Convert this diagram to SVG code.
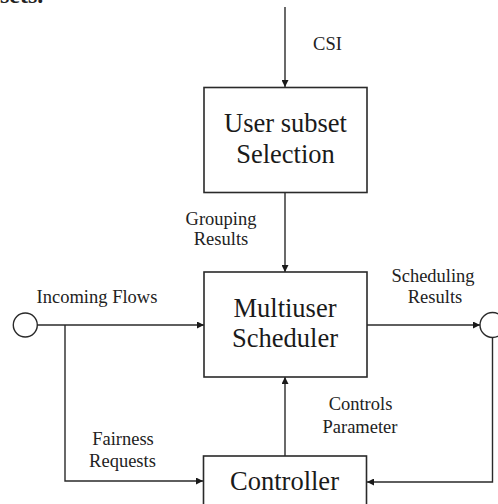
<svg xmlns="http://www.w3.org/2000/svg" width="498" height="504" viewBox="0 0 498 504">
<style>
.box{fill:#fff;stroke:#2a2a2a;stroke-width:1.6}
.ln{fill:none;stroke:#2a2a2a;stroke-width:1.4}
.c{fill:#fff;stroke:#2a2a2a;stroke-width:1.4}
.t{font-family:"Liberation Serif",serif;fill:#222;font-size:18.5px;text-anchor:middle}
.b{font-family:"Liberation Serif",serif;fill:#1a1a1a;font-size:26.5px;text-anchor:middle}
</style>
<defs>
<marker id="ar" viewBox="0 0 10 10" refX="10" refY="5" markerWidth="8" markerHeight="7" markerUnits="userSpaceOnUse" orient="auto">
<path d="M0,0 L10,5 L0,10 z" fill="#1a1a1a"/>
</marker>
</defs>
<rect width="498" height="504" fill="#fff"/>
<text x="0" y="2.5" font-family="Liberation Serif,serif" font-weight="bold" font-size="24" fill="#222">sets.</text>
<g id="connectors">
<line class="ln" x1="285" y1="7" x2="285" y2="87" marker-end="url(#ar)"/>
<line class="ln" x1="285" y1="193" x2="285" y2="272" marker-end="url(#ar)"/>
<line class="ln" x1="37" y1="325" x2="204" y2="325" marker-end="url(#ar)"/>
<polyline class="ln" points="65,325 65,481 203,481" marker-end="url(#ar)"/>
<line class="ln" x1="367" y1="325" x2="480" y2="325" marker-end="url(#ar)"/>
<polyline class="ln" points="492.5,337 492.5,482 367,482" marker-end="url(#ar)"/>
<line class="ln" x1="285" y1="456" x2="285" y2="377" marker-end="url(#ar)"/>
</g>
<g id="in-circle"><circle class="c" cx="25.3" cy="325" r="12"/></g>
<g id="out-circle"><circle class="c" cx="492.5" cy="325" r="12.5"/></g>
<g id="user-subset">
<rect class="box" x="204" y="87.5" width="163" height="105"/>
<text class="b" x="285.5" y="131.5">User subset</text>
<text class="b" x="285.5" y="162.5">Selection</text>
</g>
<g id="scheduler">
<rect class="box" x="204" y="272" width="163" height="105"/>
<text class="b" x="285" y="316.5">Multiuser</text>
<text class="b" x="285" y="346.5">Scheduler</text>
</g>
<g id="controller">
<rect class="box" x="203.5" y="456" width="163" height="60"/>
<text class="b" x="284.5" y="490">Controller</text>
</g>
<g id="labels">
<text class="t" x="327.5" y="50">CSI</text>
<text class="t" x="221" y="225">Grouping</text>
<text class="t" x="221" y="245">Results</text>
<text class="t" x="97" y="303">Incoming Flows</text>
<text class="t" x="433" y="282">Scheduling</text>
<text class="t" x="435" y="303">Results</text>
<text class="t" x="360.5" y="410">Controls</text>
<text class="t" x="360" y="433">Parameter</text>
<text class="t" x="123" y="445">Fairness</text>
<text class="t" x="122.5" y="467">Requests</text>
</g>
</svg>
